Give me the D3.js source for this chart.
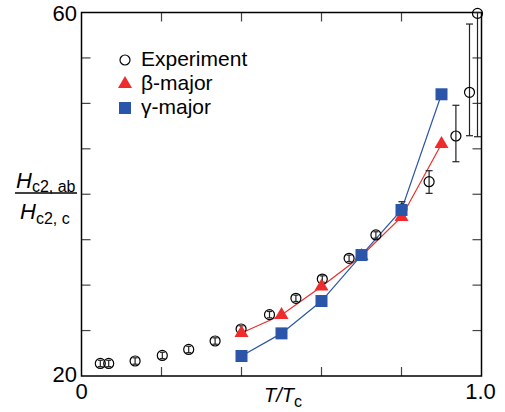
<!DOCTYPE html>
<html>
<head>
<meta charset="utf-8">
<script src="https://cdn.jsdelivr.net/npm/d3@7"></script>
<style>
  body { margin: 0; background: #fff; }
  svg { display: block; font-family: "Liberation Sans", Arial, sans-serif; }
</style>
</head>
<body>
<div class="graph"></div>
<script>
// experiment
const expT = [0.047, 0.068, 0.134, 0.202, 0.268, 0.334, 0.399, 0.470, 0.536, 0.602, 0.669, 0.736, 0.801, 0.869, 0.936, 0.970, 0.990];
const expH = [21.38, 21.38, 21.65, 22.26, 22.92, 23.85, 25.17, 26.75, 28.55, 30.67, 32.95, 35.52, 38.38, 41.38, 46.41, 51.22, 59.9];
const expLow = [21.03, 21.03, 21.3, 21.91, 22.57, 23.5, 24.82, 26.4, 28.2, 30.32, 32.6, 35.17, 37.58, 40.1, 43.58, 46.44, 46.33];
const expHigh = [21.73, 21.73, 22.0, 22.61, 23.27, 24.2, 25.52, 27.1, 28.9, 31.02, 33.3, 35.87, 39.18, 42.59, 49.79, 58.73, 60.0];

// calculations
const calcT = [0.4, 0.5, 0.6, 0.7, 0.8, 0.9];
const betaH = [24.73, 26.71, 29.85, 33.2, 37.5, 45.53];
const gammaH = [22.2, 24.69, 28.25, 33.31, 38.27, 51.0];

const xTicks = [0.2, 0.4, 0.6, 0.8];
const yTicks = [25, 30, 35, 40, 45, 50, 55];

const W = 505, H = 412;
const plot = { left: 81.5, right: 481.5, top: 12.5, bottom: 376 };
const red = "#ee2c2c";
const blue = "#2a55a8";

const svg = d3.select(".graph").append("svg").attr("width", W).attr("height", H);

const x = d3.scaleLinear().domain([0, 1]).range([plot.left, plot.right]);
const y = d3.scaleLinear().domain([20, 60]).range([plot.bottom, plot.top]);

// ticks (inward on all four sides)
const tickLen = 9;
const ticks = svg.append("g").attr("stroke", "#444").attr("stroke-width", 1.2);
xTicks.forEach((t) => {
  ticks.append("line").attr("x1", x(t)).attr("x2", x(t)).attr("y1", plot.bottom).attr("y2", plot.bottom - tickLen);
  ticks.append("line").attr("x1", x(t)).attr("x2", x(t)).attr("y1", plot.top).attr("y2", plot.top + tickLen);
});
yTicks.forEach((t) => {
  ticks.append("line").attr("x1", plot.left).attr("x2", plot.left + tickLen).attr("y1", y(t)).attr("y2", y(t));
  ticks.append("line").attr("x1", plot.right).attr("x2", plot.right - tickLen).attr("y1", y(t)).attr("y2", y(t));
});

// frame
svg.append("rect")
  .attr("x", plot.left).attr("y", plot.top)
  .attr("width", plot.right - plot.left).attr("height", plot.bottom - plot.top)
  .attr("fill", "none").attr("stroke", "#000").attr("stroke-width", 1.5);

// end labels
svg.append("text").attr("x", 77).attr("y", y(60) + 8).attr("text-anchor", "end").attr("font-size", 22).text("60");
svg.append("text").attr("x", 77).attr("y", y(20) + 6).attr("text-anchor", "end").attr("font-size", 22).text("20");
svg.append("text").attr("x", x(0)).attr("y", 399).attr("text-anchor", "middle").attr("font-size", 22).text("0");
svg.append("text").attr("x", x(1) - 1).attr("y", 399).attr("text-anchor", "middle").attr("font-size", 22).text("1.0");

// axis titles
const num = svg.append("text").attr("x", 16).attr("y", 188).attr("font-size", 22);
num.append("tspan").attr("font-style", "italic").text("H");
num.append("tspan").attr("font-size", 16).attr("dy", 4).text("c2, ab");
svg.append("line").attr("x1", 15).attr("x2", 77).attr("y1", 193).attr("y2", 193).attr("stroke", "#000").attr("stroke-width", 1.5);
const den = svg.append("text").attr("x", 20).attr("y", 219).attr("font-size", 22);
den.append("tspan").attr("font-style", "italic").text("H");
den.append("tspan").attr("font-size", 16).attr("dy", 5).text("c2, c");

const xl = svg.append("text").attr("x", 264).attr("y", 402).attr("font-size", 20).attr("font-style", "italic");
xl.append("tspan").text("T/T");
xl.append("tspan").attr("font-style", "normal").attr("font-size", 16).attr("dy", 5).text("c");

// calculation lines
const line = d3.line().x((d) => x(d[0])).y((d) => y(d[1]));
svg.append("path").datum(calcT.map((t, i) => [t, betaH[i]]))
  .attr("fill", "none").attr("stroke", red).attr("stroke-width", 1.2).attr("d", line);
svg.append("path").datum(calcT.map((t, i) => [t, gammaH[i]]))
  .attr("fill", "none").attr("stroke", blue).attr("stroke-width", 1.2).attr("d", line);

// experiment error bars + circles
const exp = svg.append("g");
expT.forEach((t, i) => {
  const cx = x(t);
  const capW = i < 12 ? 2.5 : 3.5;
  exp.append("line").attr("x1", cx).attr("x2", cx).attr("y1", y(expLow[i])).attr("y2", y(expHigh[i]))
    .attr("stroke", "#222").attr("stroke-width", 1.2);
  [expLow[i], expHigh[i]].forEach((v) => {
    exp.append("line").attr("x1", cx - capW).attr("x2", cx + capW).attr("y1", y(v)).attr("y2", y(v))
      .attr("stroke", "#222").attr("stroke-width", 1.2);
  });
  exp.append("circle").attr("cx", cx).attr("cy", y(expH[i])).attr("r", 5)
    .attr("fill", "none").attr("stroke", "#000").attr("stroke-width", 1.2);
});

// markers
const tri = d3.symbol().type(d3.symbolTriangle).size(85);
svg.append("g").selectAll("path").data(calcT.map((t, i) => [t, betaH[i]])).enter()
  .append("path").attr("d", tri).attr("fill", red)
  .attr("transform", (d) => `translate(${x(d[0])},${y(d[1])})`);
const sq = 12;
svg.append("g").selectAll("rect").data(calcT.map((t, i) => [t, gammaH[i]])).enter()
  .append("rect").attr("fill", blue)
  .attr("x", (d) => x(d[0]) - sq / 2).attr("y", (d) => y(d[1]) - sq / 2)
  .attr("width", sq).attr("height", sq);

// legend
const lg = svg.append("g");
lg.append("circle").attr("cx", 125).attr("cy", 60).attr("r", 5).attr("fill", "none").attr("stroke", "#000").attr("stroke-width", 1.2);
lg.append("path").attr("d", tri).attr("fill", red).attr("transform", "translate(125,84)");
lg.append("rect").attr("x", 119).attr("y", 102).attr("width", sq).attr("height", sq).attr("fill", blue);
lg.append("text").attr("x", 141).attr("y", 66).attr("font-size", 21).text("Experiment");
lg.append("text").attr("x", 141).attr("y", 90).attr("font-size", 21).text("β-major");
lg.append("text").attr("x", 141).attr("y", 114).attr("font-size", 21).text("γ-major");
</script>
</body>
</html>
